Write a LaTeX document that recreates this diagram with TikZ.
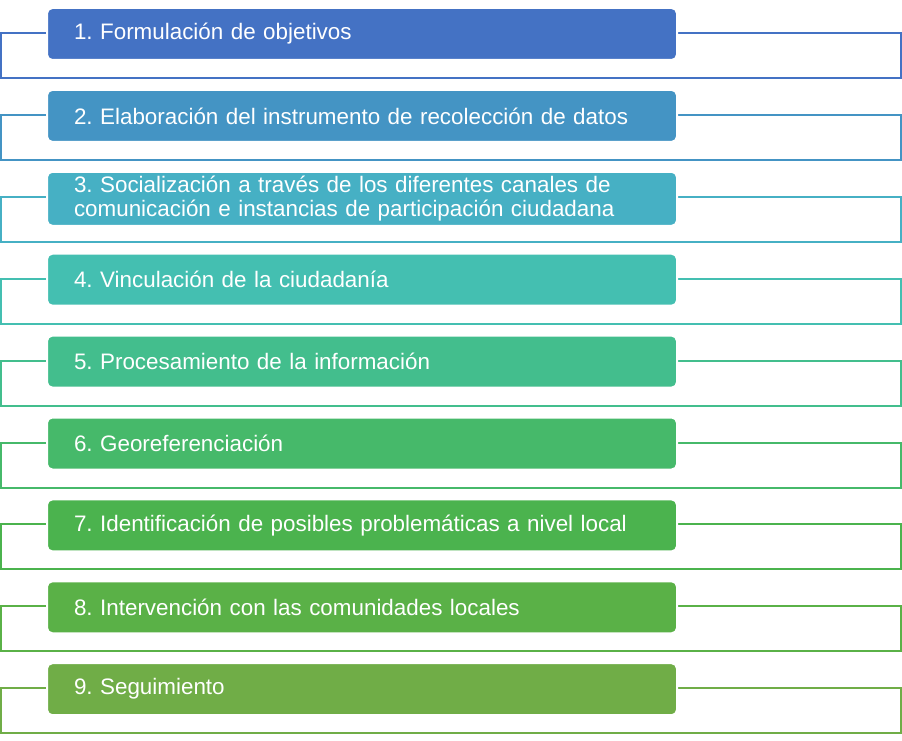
\documentclass[tikz,border=0pt]{standalone}
\usepackage{fontspec}
\setmainfont{Liberation Sans}

\definecolor{c1}{HTML}{4472C4}
\definecolor{c2}{HTML}{4494C4}
\definecolor{c3}{HTML}{46B0C4}
\definecolor{c4}{HTML}{44BFB1}
\definecolor{c5}{HTML}{43BE8D}
\definecolor{c6}{HTML}{46B96A}
\definecolor{c7}{HTML}{4BB34E}
\definecolor{c8}{HTML}{5AB147}
\definecolor{c9}{HTML}{70AD47}

\begin{document}
\frenchspacing
\begin{tikzpicture}
  [x=0.75pt,y=-0.75pt,
   frame/.style={draw,line width=1.5pt},
   stage/.style={draw=white,line width=1.5pt,rounded corners=4pt,anchor=north west,
     minimum width=472.5pt,minimum height=39pt,text width=432pt,inner xsep=20.25pt,
     align=left,text=white,font=\fontsize{16.8}{18}\selectfont}]
  \useasboundingbox (0,0) rectangle (902,741);
  \foreach \n/\txt in {1/{1. Formulación de objetivos},
                       2/{2. Elaboración del instrumento de recolección de datos},
                       3/{3. Socialización a través de los diferentes canales de\\comunicación e instancias de participación ciudadana},
                       4/{4. Vinculación de la ciudadanía},
                       5/{5. Procesamiento de la información},
                       6/{6. Georeferenciación},
                       7/{7. Identificación de posibles problemáticas a nivel local},
                       8/{8. Intervención con las comunidades locales},
                       9/{9. Seguimiento}}
  {
    \pgfmathsetmacro{\top}{8+81.9*(\n-1)}
    \draw[frame,c\n] (1,\top+25) rectangle (901,\top+70);
    \node[stage,fill=c\n] (s\n) at (46,\top-1) {\txt};
  }
\end{tikzpicture}
\end{document}
